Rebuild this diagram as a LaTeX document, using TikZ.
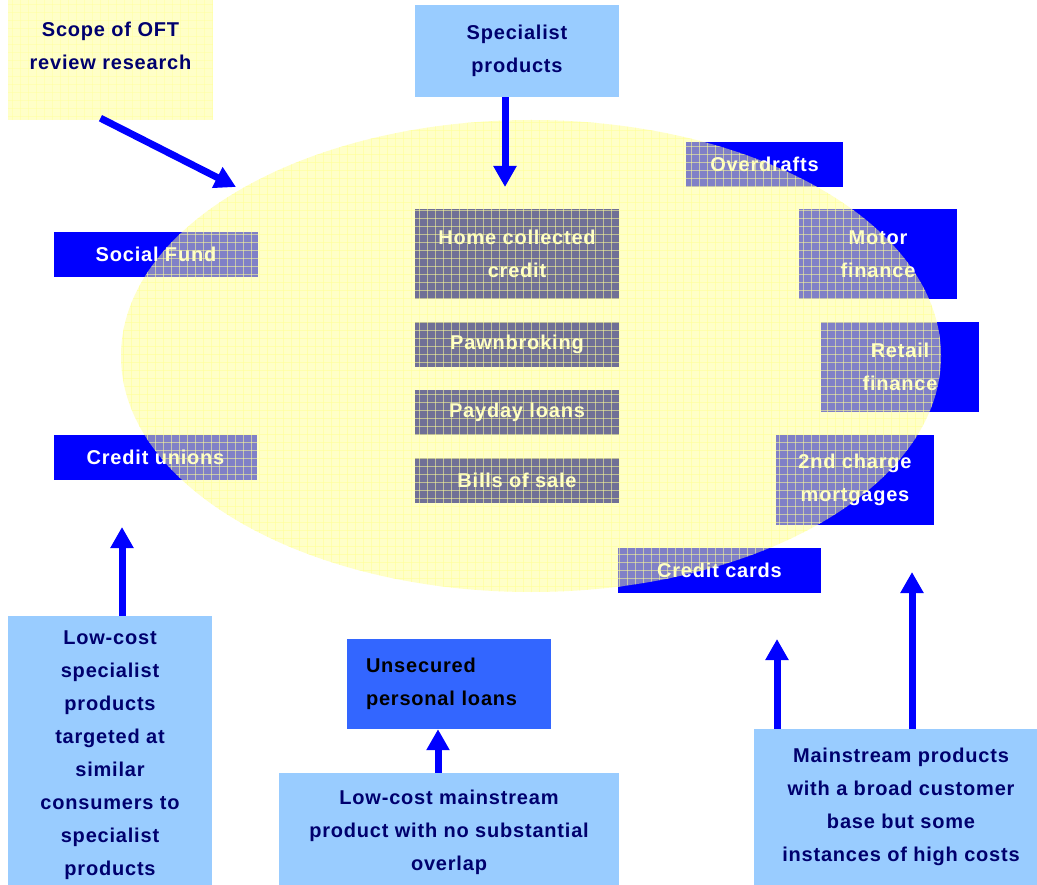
\documentclass[tikz,border=0pt]{standalone}
\usepackage{fontspec}
\setmainfont{Liberation Sans}[LetterSpace=4]
\usetikzlibrary{arrows.meta}
\definecolor{navy}{RGB}{0,0,110}
\definecolor{paleblue}{RGB}{153,204,255}
\definecolor{pureblue}{RGB}{0,0,255}
\definecolor{midblue}{RGB}{51,102,255}
\definecolor{slate}{RGB}{112,112,150}
\definecolor{paletext}{RGB}{255,255,200}
\definecolor{scopeyellow}{RGB}{255,255,200}
\definecolor{ellyellow}{RGB}{255,255,145}
\definecolor{gridyellow}{RGB}{255,255,150}
\begin{document}
\begin{tikzpicture}[x=1pt,y=-1pt,
  txt/.style={font=\bfseries\fontsize{20}{33}\selectfont,align=center,inner sep=0pt},
  lightbox/.style={txt,fill=paleblue,text=navy},
  bluebox/.style={txt,fill=pureblue,text=white},
  darkbox/.style={txt,fill=slate,text=paletext,minimum width=204},
  bigarrow/.style={pureblue,line width=7pt,-{Triangle[width=22pt,length=21pt]}},
  gridline/.style={gridyellow,line width=0.8pt,opacity=0.55}]
\useasboundingbox (0,0) rectangle (1037,885);
% scope box
  \node[fill=scopeyellow,minimum width=205,minimum height=120,inner sep=0pt] (scope) at (110.5,60) {};
  \foreach \gx in {12,20,...,212} \draw[gridline,opacity=0.4] (\gx,0) -- (\gx,120);
  \foreach \gy in {4,12,...,120} \draw[gridline,opacity=0.4] (8,\gy) -- (213,\gy);
  \node[txt,text=navy] (scopetext) at (110.5,46) {Scope of OFT\\review research};
  \node[lightbox,minimum width=204,minimum height=92] (special) at (517,51) {Specialist\\products};
% products around the scope
  \node[bluebox,minimum width=204,minimum height=45] (social) at (156,254.5) {Social Fund};
  \node[bluebox,minimum width=203,minimum height=45] (unions) at (155.5,457.5) {Credit unions};
  \node[bluebox,minimum width=157,minimum height=45] (overdraft) at (764.5,164.5) {Overdrafts};
  \node[bluebox,minimum width=158,minimum height=90] (motor) at (878,254) {Motor\\finance};
  \node[bluebox,minimum width=158,minimum height=90] (retail) at (900,367) {Retail\\finance};
  \node[bluebox,minimum width=158,minimum height=90] (mortgage) at (855,480) {2nd charge\\mortgages};
  \node[bluebox,minimum width=203,minimum height=45] (cards) at (719.5,570.5) {Credit cards};
% scope ellipse
  \fill[ellyellow,opacity=0.5] (531,356) ellipse [x radius=410,y radius=236];
% specialist products
  \node[darkbox,minimum height=90] (homecredit) at (517,254) {Home collected\\credit};
  \node[darkbox,minimum height=45] (pawn) at (517,344.5) {Pawnbroking};
  \node[darkbox,minimum height=45] (payday) at (517,412.5) {Payday loans};
  \node[darkbox,minimum height=45] (billsale) at (517,480.5) {Bills of sale};
  \begin{scope}
    \clip (531,356) ellipse [x radius=410,y radius=236];
    \foreach \gx in {123,131,...,947} \draw[gridline] (\gx,118) -- (\gx,594);
    \foreach \gy in {122,130,...,594} \draw[gridline] (119,\gy) -- (943,\gy);
  \end{scope}
% bottom boxes
  \node[lightbox,minimum width=204,minimum height=279] (lowspec) at (110,755.5)
    {Low-cost\\specialist\\products\\targeted at\\similar\\consumers to\\specialist\\products};
  \node[lightbox,minimum width=340,minimum height=118] (lowmain) at (449,832)
    {Low-cost mainstream\\product with no substantial\\overlap};
  \node[lightbox,minimum width=294,minimum height=156] (mainstream) at (901,807)
    {Mainstream products\\with a broad customer\\base but some\\instances of high costs};
  \node[txt,fill=midblue,text=black,align=left,text width=166,inner xsep=19,minimum height=90] (unsecured) at (449,684)
    {Unsecured\\personal loans};
% arrows
  \coordinate (scopetip) at (236,187);
  \coordinate (specialtip) at (505,187);
  \coordinate (lowspectip) at (122,527);
  \coordinate (lowmaintip) at (438,730);
  \coordinate (cardtip) at (777,639);
  \coordinate (mortgagetip) at (912,572);
  \draw[bigarrow] ([xshift=-10pt,yshift=2pt]scope.south) -- (scopetip);
  \draw[bigarrow] (special.south -| specialtip) -- (specialtip);
  \draw[bigarrow] (lowspec.north -| lowspectip) -- (lowspectip);
  \draw[bigarrow] (lowmain.north -| lowmaintip) -- (unsecured.south -| lowmaintip);
  \draw[bigarrow] (mainstream.north -| cardtip) -- (cardtip);
  \draw[bigarrow] (mainstream.north -| mortgagetip) -- (mortgagetip);
\end{tikzpicture}
\end{document}
